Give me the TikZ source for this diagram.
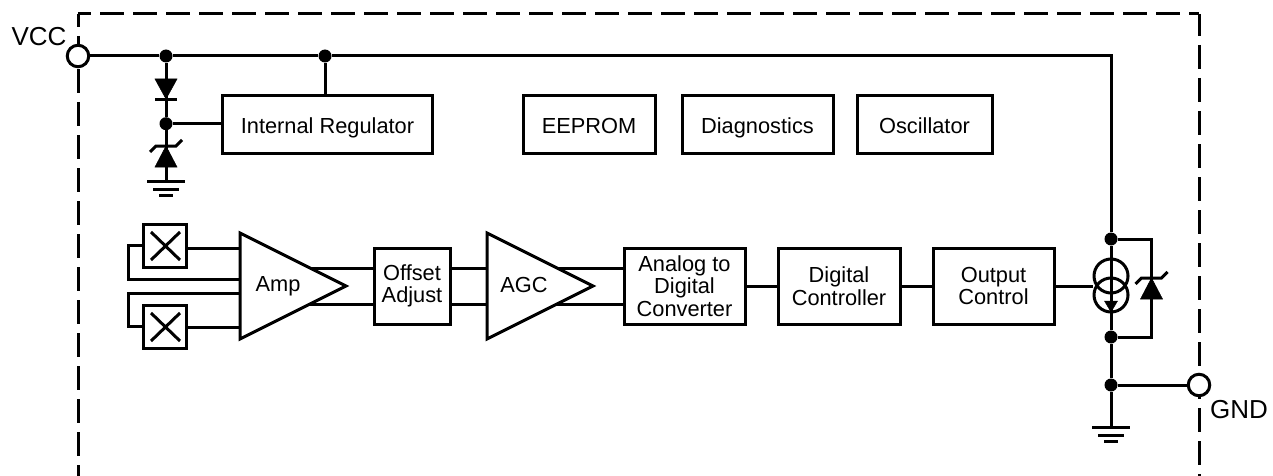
\documentclass[tikz,border=0pt]{standalone}
\usepackage{fontspec}
\setmainfont{Liberation Sans}
\tikzset{
 x=1pt,y=-1pt,
 wire/.style={line width=3pt,black},
 blockbox/.style={draw,line width=3pt,minimum height=57pt,inner sep=0pt,align=center,font=\fontsize{21.8}{22.5}\selectfont},
 topbox/.style={blockbox,text height=17pt,text depth=0pt},
 chainbox/.style={blockbox,minimum height=76pt},
 dotnode/.style={circle,fill=black,inner sep=0pt,minimum size=13pt},
 pin/.style={circle,draw,fill=white,line width=3pt,inner sep=0pt,minimum size=21.5pt},
 solid tri/.style={fill=black,draw=black,line width=0.5pt,line join=miter},
 lbl/.style={inner sep=0pt,font=\fontsize{21.8}{24}\selectfont,align=center},
 pinlbl/.style={inner sep=0pt,font=\fontsize{26}{30}\selectfont},
 sensor/.style={draw,line width=3pt,minimum size=43pt,inner sep=0pt},
 amp/.style={draw,line width=3pt,line join=miter},
 ring/.style={circle,draw,line width=3pt,inner sep=0pt,minimum size=34pt},
}
\newcommand{\gndsym}[2]{\draw[wire] (#1-19,#2)--(#1+19,#2) (#1-13,#2+8)--(#1+13,#2+8) (#1-7,#2+14)--(#1+7,#2+14);}
\newcommand{\zenerup}[2]{\fill[solid tri] (#1,#2)--(#1-11,#2+21)--(#1+11,#2+21)--cycle;\draw[wire] (#1-16,#2+6)--(#1-10,#2)--(#1+10,#2)--(#1+16,#2-6);}
\begin{document}
\begin{tikzpicture}
\useasboundingbox (0,0) rectangle (1273,476);
% package outline
\coordinate (cBL) at (78,476);
\coordinate (cTL) at (78,14);
\coordinate (cTR) at (1199,14);
\coordinate (cBR) at (1199,476);
\draw[line width=3pt,dash pattern=on 24pt off 9pt,dash phase=11pt] (cTL)--(cTR);
\draw[line width=3pt,dash pattern=on 24pt off 9pt,dash phase=11pt] (cTL)--(cBL);
\draw[line width=3pt,dash pattern=on 24pt off 9pt,dash phase=2pt] (cTR)--(cBR);
% pins
\node[pin] (vcc) at (78,56) {};
\node[pin] (gnd) at (1199,385) {};
\node[pinlbl] (vcclabel) at (39,37) {VCC};
\node[pinlbl] (gndlabel) at (1239,410) {GND};
% blocks
\node[topbox,minimum width=210.5pt] (reg) at (327.5,124.5) {Internal Regulator};
\node[topbox,minimum width=132pt] (eeprom) at (589,124.5) {EEPROM};
\node[topbox,minimum width=151pt] (diag) at (757.5,124.5) {Diagnostics};
\node[topbox,minimum width=135pt] (osc) at (924.5,124.5) {Oscillator};
\node[chainbox,minimum width=76pt] (offset) at (412,286) {\fontsize{21.8}{25}\selectfont Offset\\Adjust};
\node[chainbox,minimum width=121pt] (adc) at (684.5,286) {Analog to\\Digital\\Converter};
\node[chainbox,minimum width=122pt] (dig) at (839,286) {Digital\\Controller};
\node[chainbox,minimum width=121pt] (out) at (993.5,286) {Output\\Control};
% junctions
\node[dotnode] (j1) at (166,56) {};
\node[dotnode] (j2) at (325,56) {};
\node[dotnode] (j3) at (166,123.7) {};
\node[dotnode] (j4) at (1111,239) {};
\node[dotnode] (j5) at (1111,337) {};
\node[dotnode] (j6) at (1111,385) {};
\coordinate (corner) at (1111,56);
\coordinate (g1) at (166,181);
\coordinate (g2) at (1111,427);
% wires
\draw[wire] (vcc)--(j1)--(j2)--(corner)--(j4)--(j5)--(j6)--(g2);
\draw[wire] (j1)--(j3)--(g1);
\draw[wire] (j2)--(reg.north -| j2);
\draw[wire] (j3)--(reg.west |- j3);
\draw[wire] (j6)--(gnd);
\draw[wire] (j4)-|(1151.5,337)--(j5);
% diode
\fill[solid tri] (155,79)--(177,79)--(166,99)--cycle;
\draw[wire] (155,100)--(177,100);
\zenerup{166}{146}
\gndsym{166}{181}
\gndsym{1111}{427}
\zenerup{1151.5}{278}
% sensors
\node[sensor] (s1) at (165,245.5) {};
\node[sensor] (s2) at (165,326.5) {};
\draw[wire] (151,232)--(180,260) (151,260)--(180,232);
\draw[wire] (151,313)--(180,341) (151,341)--(180,313);
% amplifiers
\coordinate (a1t) at (240,233); \coordinate (a1b) at (240,339); \coordinate (a1p) at (346,286);
\coordinate (a2t) at (487,233); \coordinate (a2b) at (487,339); \coordinate (a2p) at (593,286);
\draw[wire] (s1.east |- 0,248)--(240,248);
\draw[wire] (s2.east |- 0,327)--(240,327);
\draw[wire] (s1.west)--(128,245.5)--(128,279)--(240,279);
\draw[wire] (s2.west)--(128,326.5)--(128,293)--(240,293);
\draw[wire] (310,268)--(offset.west |- 0,268);
\draw[wire] (310,304)--(offset.west |- 0,304);
\draw[wire] (offset.east |- 0,268)--(487,268);
\draw[wire] (offset.east |- 0,304)--(487,304);
\draw[wire] (557,268)--(adc.west |- 0,268);
\draw[wire] (557,304)--(adc.west |- 0,304);
\draw[wire] (adc)--(dig);
\draw[wire] (dig)--(out);
\draw[amp] (a1t)--(a1p)--(a1b)--cycle;
\draw[amp] (a2t)--(a2p)--(a2b)--cycle;
\node[lbl] (amplabel) at (278,286) {Amp};
\node[lbl] (agclabel) at (524,285) {AGC};
% current sources
\node[ring] (r1) at (1111,276) {};
\node[ring] (r2) at (1111,295) {};
\draw[wire] (out.east)--(r1.west |- out.east);
\fill[solid tri] (1104.5,301)--(1117.5,301)--(1111,312)--cycle;
\end{tikzpicture}
\end{document}
